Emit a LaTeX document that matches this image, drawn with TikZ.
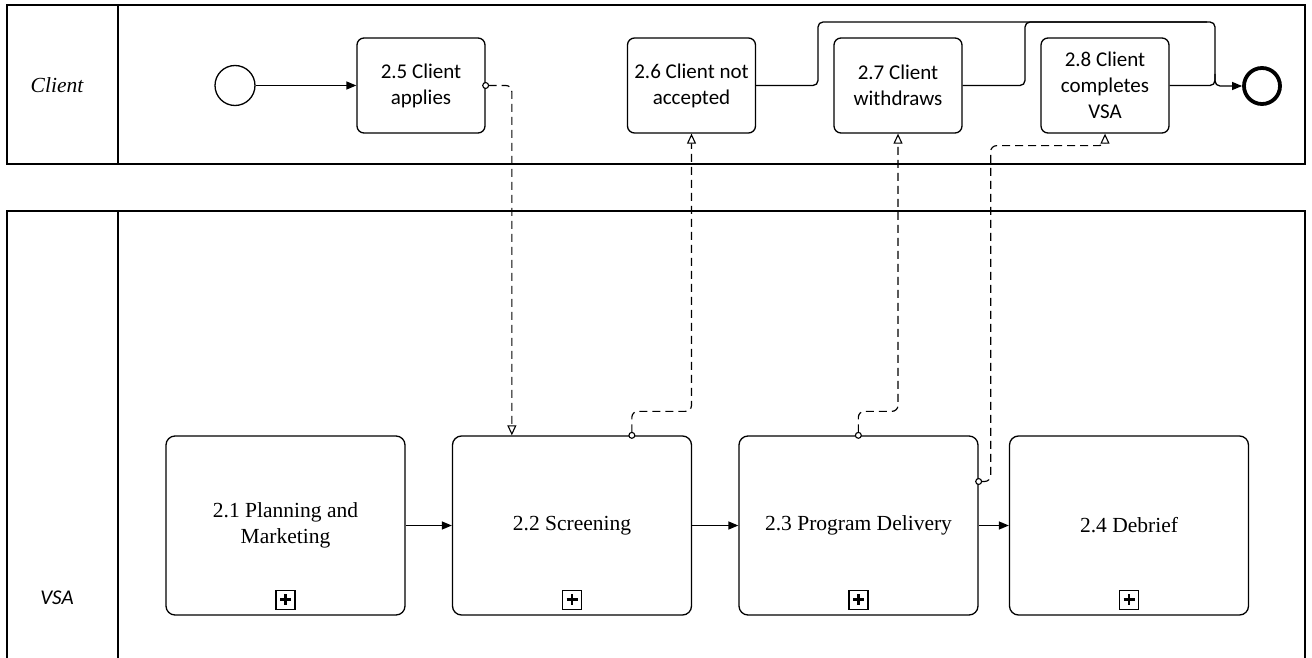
\documentclass[tikz,border=0pt]{standalone}
\usepackage{fontspec}
\setmainfont{Liberation Serif}
\newfontfamily\calfont{Carlito}
\usetikzlibrary{arrows.meta,calc}
\begin{document}
\begin{tikzpicture}[x=1pt,y=-1pt,
  pool/.style={line width=1.5pt},
  ctask/.style={draw,line width=1.3pt,rounded corners=7pt,minimum width=128pt,minimum height=95pt,align=center,font=\calfont\fontsize{21}{26}\selectfont,inner sep=2pt},
  vtask/.style={draw,line width=1.3pt,rounded corners=9pt,minimum width=239pt,minimum height=179pt,align=center,font=\fontsize{21.5}{26}\selectfont,inner sep=2pt},
  line/.style={line width=1.3pt,rounded corners=5pt},
  seq/.style={line,-{Triangle[length=10pt,width=8pt]}},
  msg/.style={line width=1.2pt,dash pattern=on 8pt off 5pt,rounded corners=6pt,
     {Circle[open,length=7pt,width=7pt,fill=white,line width=1.1pt,sep=-3.5pt]}-{Triangle[open,length=10pt,width=9pt,fill=white,line width=1.1pt]}},
  plusbox/.style={draw,line width=1.1pt,minimum size=19pt,inner sep=0pt}
]
\useasboundingbox (0,0) rectangle (1312,658);
% pools
\draw[pool] (7,5) rectangle (1305,164);
\draw[pool] (118,5) -- (118,164);
\draw[pool] (7,658) -- (7,211) -- (1305,211) -- (1305,658);
\draw[pool] (118,211) -- (118,658);
\node (lc) at (57,85) {\fontsize{21.5}{25}\selectfont\itshape Client};
\node (lv) at (57,598) {\calfont\fontsize{21}{25}\selectfont\itshape VSA};
% client lane
\node[draw,circle,line width=1.3pt,minimum size=40pt,inner sep=0pt] (s) at (235,85.5) {};
\node[draw,circle,line width=3.8pt,minimum size=36pt,inner sep=0pt] (e) at (1262,86) {};
\node[ctask] (t25) at (421,85.5) {2.5 Client\\applies};
\node[ctask] (t26) at (691.5,85.5) {2.6 Client not\\accepted};
\node[ctask] (t27) at (898,85.5) {2.7 Client\\withdraws};
\node[ctask] (t28) at (1105,85.5) {2.8 Client\\completes\\VSA};
% VSA lane
\node[vtask] (t21) at (285.5,525.5) {2.1 Planning and\\Marketing};
\node[vtask] (t22) at (572,525.5) {2.2 Screening};
\node[vtask] (t23) at (858.5,525.5) {2.3 Program Delivery};
\node[vtask] (t24) at (1129,525.5) {2.4 Debrief};
\foreach \t in {t21,t22,t23,t24}{
  \node[plusbox] (p\t) at ($(\t.south)+(0,-16)$) {};
  \draw[line width=2.4pt] ($(p\t.center)+(-5.5,0)$) -- ($(p\t.center)+(5.5,0)$);
  \draw[line width=2.4pt] ($(p\t.center)+(0,-5.5)$) -- ($(p\t.center)+(0,5.5)$);
}
% sequence flows
\coordinate (c6) at (818,22);
\coordinate (c7) at (1025,22);
\coordinate (cj) at (1215,22);
\coordinate (cm) at (1215,74);
\draw[seq] (s.east) -- (t25.west);
\draw[seq] (t26.east) -| (c6) -- (cj) |- (e.west);
\draw[line] (t27.east) -| (c7) -- ($(cj)+(-8,0)$);
\draw[line] (t28.east) -| (cm);
\draw[seq] (t21.east) -- (t22.west);
\draw[seq] (t22.east) -- (t23.west);
\draw[seq] (t23.east) -- (t24.west);
% message flows
\draw[msg] (t25.east) -| ($(t22.north west)+(60,0)$);
\draw[msg] ($(t22.north west)+(180,0)$) -- ++(0,-24) -| (t26.south);
\draw[msg] ($(t23.north west)+(120,0)$) -- ++(0,-24) -| (t27.south);
\draw[msg] ($(t23.east)+(0,-44)$) -- ++(12,0) |- ($(t28.south)+(0,12)$) -- (t28.south);
\end{tikzpicture}
\end{document}
